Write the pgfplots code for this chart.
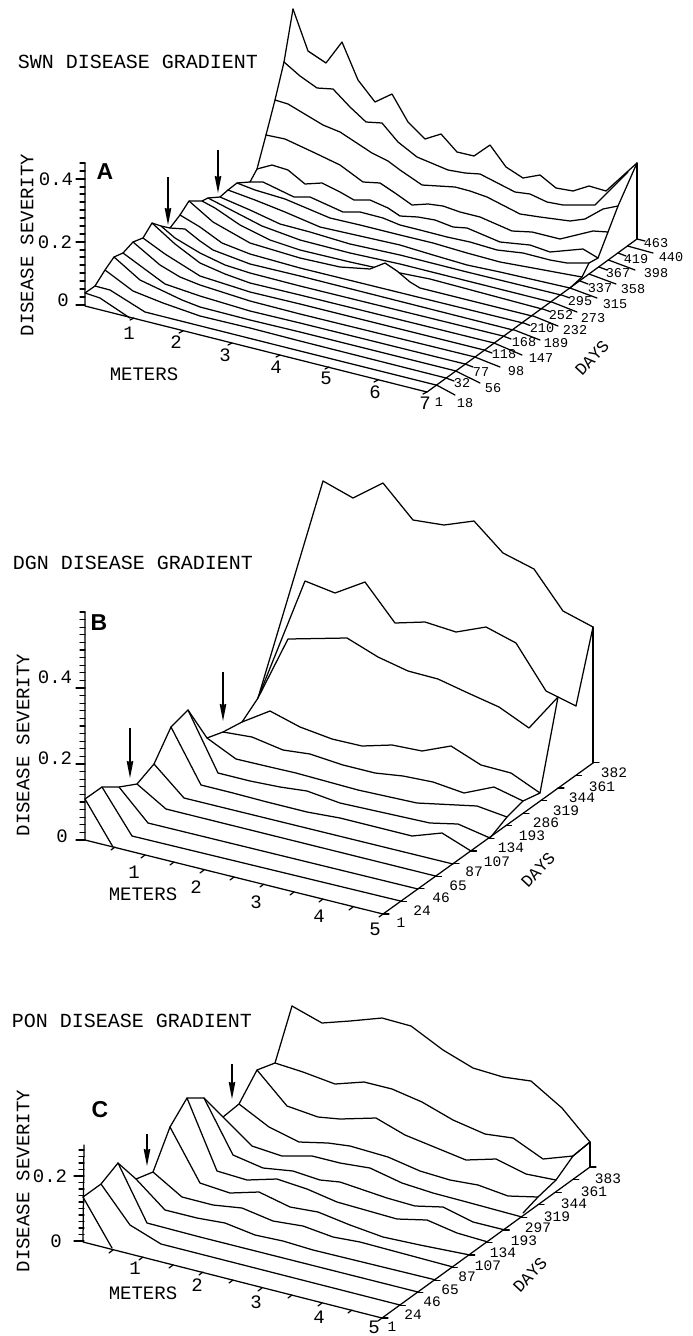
\documentclass[border=0pt]{standalone}
\usepackage{pgfplots}
\pgfplotsset{compat=1.18}
\usepackage{fontspec}
\usetikzlibrary{arrows.meta}
\setmainfont{Liberation Mono}
\newfontfamily\bld{Liberation Sans}
\pgfplotsset{ln/.style={black,line width=1.25pt,line join=round,line cap=round}}
\newcommand{\ridge}[3]{%
\addplot[draw=none,fill=white] coordinates {#1 #2 #3};
\addplot[ln] coordinates {#2};}
\newcommand{\tx}[4]{\node[inner sep=0pt] at (axis cs:#1,#2) {\fontsize{#3}{#3}\selectfont #4};}
\newcommand{\rtx}[5]{\node[inner sep=0pt,rotate=#4] at (axis cs:#1,#2) {\fontsize{#3}{#3}\selectfont #5};}
\newcommand{\arr}[2]{\addplot[black,line width=1.2pt,-{Stealth[length=17pt,width=6.5pt,inset=1pt]}] coordinates {#1 #2};}
\begin{document}
\begin{tikzpicture}
\path[use as bounding box] (0,0) rectangle (693pt,1336pt);
\begin{axis}[at={(0,0)},anchor=south west,hide axis,scale only axis,width=693pt,height=1336pt,xmin=0,xmax=693,ymin=0,ymax=1336,y dir=reverse,clip=false,unbounded coords=jump]
% ---------- PANEL A ----------
\ridge{(295,153)}{(293,9)(308,51)(326,63)(342,42)(358,80)(375,102)(392,94)(408,122)(425,139)(441,134)(457,152)(474,156)(490,145)(506,167)(523,178)(540,175)(556,188)(573,191)(589,186)(606,191)(637,163)}{(637,239)}
\ridge{(285,160)}{(284,62)(300,76)(317,88)(333,89)(350,107)(366,122)(382,123)(398,142)(417,157)(448,170)(465,173)(480,174)(515,192)(530,194)(547,202)(563,205)(595,205)(628,172)}{(627,246)}
\ridge{(276,167)}{(275,100)(288,104)(323,125)(340,132)(372,153)(388,161)(400,170)(422,185)(455,187)(470,191)(487,197)(520,214)(540,217)(570,221)(585,219)(603,209)(618,206)}{(618,253)}
\ridge{(266,174)}{(266,135)(285,139)(315,153)(340,165)(363,182)(380,183)(395,193)(412,205)(428,204)(443,206)(460,212)(480,217)(512,231)(532,232)(560,239)(593,231)(608,232)}{(608,260)}
\ridge{(257,181)}{(257,169)(272,165)(288,170)(305,184)(322,183)(340,192)(354,200)(370,200)(388,208)(400,216)(418,217)(435,220)(453,227)(467,228)(500,242)(530,245)(550,252)(583,249)(598,258)}{(599,267)}
\ridge{(247,188)}{(250,182)(263,182)(294,197)(310,197)(343,212)(360,212)(383,218)(400,225)(420,230)(447,237)(470,242)(497,250)(523,253)(550,260)(567,263)(589,263)}{(589,274)}
\ridge{(238,195)}{(237,183)(255,190)(285,199)(330,218)(360,225)(400,235)(433,243)(467,253)(500,262)(533,268)(560,273)(582,277)}{(580,281)}
\ridge{(228,202)}{(228,190)(255,200)(285,212)(320,227)(360,236)(400,245)(433,255)(467,265)(500,272)(570,288)}{(570,288)}
\ridge{(219,209)}{(220,197)(250,210)(280,224)(310,232)(350,244)(400,255)(467,272)(561,295)}{(561,295)}
\ridge{(209,216)}{(208,198)(235,212)(262,226)(300,240)(350,253)(400,264)(551,302)}{(551,302)}
\ridge{(200,223)}{(202,201)(215,208)(240,225)(270,240)(300,250)(350,262)(400,273)(430,279)(542,309)}{(542,309)}
\ridge{(190,230)}{(189,201)(213,222)(250,243)(300,258)(340,267)(370,269)(385,263)(397,271)(410,282)(420,288)(532,316)}{(532,316)}
\ridge{(180,237)}{(180,215)(200,227)(222,243)(250,254)(300,268)(523,323)}{(523,323)}
\ridge{(171,243)}{(170,228)(185,229)(200,241)(213,250)(250,264)(300,276)(513,330)}{(513,330)}
\ridge{(161,250)}{(161,226)(175,238)(200,253)(225,265)(250,273)(300,286)(503,336)}{(503,336)}
\ridge{(152,257)}{(152,223)(175,244)(200,263)(225,274)(250,283)(300,295)(494,343)}{(494,343)}
\ridge{(142,264)}{(143,238)(165,254)(200,276)(250,292)(300,304)(484,350)}{(484,350)}
\ridge{(133,271)}{(133,242)(160,265)(180,277)(200,285)(250,301)(300,314)(475,357)}{(475,357)}
\ridge{(123,278)}{(123,253)(165,284)(200,296)(250,311)(300,323)(465,364)}{(465,364)}
\ridge{(114,285)}{(114,257)(140,280)(182,300)(200,307)(250,320)(300,332)(456,371)}{(456,371)}
\ridge{(104,292)}{(105,270)(133,291)(163,303)(200,316)(250,328)(300,341)(446,378)}{(446,378)}
\ridge{(95,299)}{(95,286)(110,290)(145,312)(300,351)(436,385)}{(436,385)}
\ridge{(85,306)}{(85,293)(100,298)(130,318)}{(130,318)}
% A silhouette, wall and axes
\addplot[ln] coordinates {(85,293)(95,286)(105,270)(114,257)(123,253)(133,242)(143,238)(152,223)(161,226)(170,228)(180,215)(189,201)(202,201)(208,198)(220,197)(228,190)(237,183)(250,182)(257,169)(266,135)(275,100)(284,62)(293,9)};
\addplot[ln] coordinates {(637,163)(618,206)(608,232)(598,258)(589,263)(582,277)(570,288)};
\addplot[ln] coordinates {(637,163)(637,239)};
\addplot[ln] coordinates {(85,163)(85,306)(427,392)(637,239)};
\addplot[ln] coordinates {(85,305)(76,305)(nan,nan)(85,297)(80,297)(nan,nan)(85,289)(80,289)(nan,nan)(85,281)(80,281)(nan,nan)(85,273)(80,273)(nan,nan)(85,265)(80,265)(nan,nan)(85,257)(80,257)(nan,nan)(85,250)(80,250)(nan,nan)(85,242)(76,242)(nan,nan)(85,234)(80,234)(nan,nan)(85,226)(80,226)(nan,nan)(85,218)(80,218)(nan,nan)(85,210)(80,210)(nan,nan)(85,202)(80,202)(nan,nan)(85,194)(80,194)(nan,nan)(85,187)(80,187)(nan,nan)(85,179)(76,179)(nan,nan)(85,171)(80,171)(nan,nan)(85,163)(80,163)};
\addplot[ln] coordinates {(134,318)(130,320)(nan,nan)(183,331)(179,333)(nan,nan)(232,343)(228,345)(nan,nan)(280,355)(276,357)(nan,nan)(329,367)(325,369)(nan,nan)(378,380)(374,382)(nan,nan)(427,392)(423,394)};
\addplot[ln] coordinates {(436.5,385)(455,395)(nan,nan)(446,378)(454,381)(nan,nan)(455.7,371)(480,383)(nan,nan)(465,364)(473,367)(nan,nan)(474.8,357)(500,367)(nan,nan)(484,350)(492,353)(nan,nan)(494,343)(522,355)(nan,nan)(503,336)(511,339)(nan,nan)(513,329.5)(540,340)(nan,nan)(522.5,322.5)(530,325.5)(nan,nan)(532,315.5)(558,326)(nan,nan)(541.6,308.6)(550,311.6)(nan,nan)(551,301.7)(577,312)(nan,nan)(560.7,294.7)(569,297.7)(nan,nan)(570,288)(597,298)(nan,nan)(580,281)(588,284)(nan,nan)(589,274)(616,284)(nan,nan)(599,267)(607,270)(nan,nan)(608.5,260)(635,270)(nan,nan)(618,253)(626,256)(nan,nan)(627.5,246)(653,253)(nan,nan)(637,239)(645,241)};
\arr{(168,177)}{(168,225)}
\arr{(218,150)}{(218,193)}
\tx{138}{62}{20pt}{SWN DISEASE GRADIENT}
\rtx{27}{245}{19pt}{90}{DISEASE SEVERITY}
\tx{56}{179}{19pt}{0.4}
\tx{55}{242}{19pt}{0.2}
\tx{63}{300}{19pt}{0}
\tx{105}{172}{23pt}{\bld\bfseries A}
\tx{144}{374}{19pt}{METERS}
\rtx{592}{358}{17pt}{47}{DAYS}
\tx{129}{333}{19pt}{1}\tx{176}{342}{19pt}{2}\tx{225}{355}{19pt}{3}\tx{276}{367}{19pt}{4}\tx{326}{378}{19pt}{5}\tx{375}{392}{19pt}{6}\tx{425}{403}{19pt}{7}
\tx{439}{402}{13.5pt}{1}\tx{465}{403}{13.5pt}{18}\tx{462}{383}{13.5pt}{32}\tx{493}{388}{13.5pt}{56}\tx{481}{372}{13.5pt}{77}\tx{516}{371}{13.5pt}{98}\tx{504}{354}{13.5pt}{118}\tx{541}{358}{13.5pt}{147}\tx{524}{342}{13.5pt}{168}\tx{556}{343}{13.5pt}{189}\tx{542}{328}{13.5pt}{210}\tx{575}{330}{13.5pt}{232}\tx{561}{315}{13.5pt}{252}\tx{593}{318}{13.5pt}{273}\tx{580}{301}{13.5pt}{295}\tx{615}{304}{13.5pt}{315}\tx{600}{288}{13.5pt}{337}\tx{633}{289}{13.5pt}{358}\tx{618}{273}{13.5pt}{367}\tx{656}{273}{13.5pt}{398}\tx{636}{259}{13.5pt}{419}\tx{671}{257}{13.5pt}{440}\tx{656}{243}{13.5pt}{463}
% ---------- PANEL B ----------
\ridge{(295,689)}{(258,698)(323,481)(353,498)(383,483)(413,520)(444,525)(474,521)(503,553)(534,569)(563,611)(593,627)}{(593,763)}
\ridge{(277,702)}{(258,698)(305,581)(335,593)(365,582)(395,623)(425,622)(456,632)(486,627)(516,643)(546,691)(576,706)(593,627)}{(575.5,775)}
\ridge{(260,714)}{(258,698)(288,639)(347,638)(378,657)(408,671)(438,679)(468,693)(499,707)(529,728)(558,697)}{(558,788)}
\ridge{(242,727)}{(242,722)(270,711)(300,727)(332,739)(362,746)(392,745)(422,751)(451,746)(481,765)(511,773)(540,793)}{(540.5,800.6)}
\ridge{(225,739)}{(223,732)(252,737)(283,750)(310,754)(343,765)(375,773)(403,776)(433,782)(464,793)(494,787)(523,801)}{(523,813)}
\ridge{(207,752)}{(207,738)(236,759)(270,767)(296,773)(358,790)(417,803)(477,806)(507,817)}{(505.5,825.8)}
\ridge{(190,765)}{(188,710)(218,773)(250,781)(280,787)(307,791)(340,803)(430,823)(458,824)(490,838)}{(488,838.4)}
\ridge{(172,777)}{(171,727)(201,785)(233,793)(267,802)(307,812)(340,818)(412,836)(442,833)(471,851)}{(470.5,851)}
\ridge{(155,790)}{(154,764)(184,798)(453,864)}{(453,864)}
\ridge{(137,802)}{(137,784)(166,809)(435.5,876)}{(435.5,876)}
\ridge{(120,815)}{(119,787)(148,823)(418,889)}{(418,889)}
\ridge{(102,827)}{(102,787)(132,836)(400.5,901)}{(400.5,901)}
\ridge{(85,840)}{(85,799)(113,847)}{(113,847)}
\addplot[ln] coordinates {(85,799)(102,787)(119,787)(137,784)(154,764)(171,727)(188,710)(207,738)(223,732)(242,722)(258,698)};
\addplot[ln] coordinates {(558,697)(540,793)(523,801)(507,817)(490,838)};
\addplot[ln] coordinates {(593,627)(593,763)};
\addplot[ln] coordinates {(85,612)(85,840)(383,914)(593,763)};
\addplot[ln] coordinates {(85,840)(76,840)(nan,nan)(85,832.4)(80,832.4)(nan,nan)(85,824.8)(80,824.8)(nan,nan)(85,817.2)(80,817.2)(nan,nan)(85,809.6)(80,809.6)(nan,nan)(85,802)(80,802)(nan,nan)(85,794.4)(80,794.4)(nan,nan)(85,786.8)(80,786.8)(nan,nan)(85,779.2)(80,779.2)(nan,nan)(85,771.6)(80,771.6)(nan,nan)(85,764)(76,764)(nan,nan)(85,756.4)(80,756.4)(nan,nan)(85,748.8)(80,748.8)(nan,nan)(85,741.2)(80,741.2)(nan,nan)(85,733.6)(80,733.6)(nan,nan)(85,726)(80,726)(nan,nan)(85,718.4)(80,718.4)(nan,nan)(85,710.8)(80,710.8)(nan,nan)(85,703.2)(80,703.2)(nan,nan)(85,695.6)(80,695.6)(nan,nan)(85,688)(76,688)(nan,nan)(85,680.4)(80,680.4)(nan,nan)(85,672.8)(80,672.8)(nan,nan)(85,665.2)(80,665.2)(nan,nan)(85,657.6)(80,657.6)(nan,nan)(85,650)(80,650)(nan,nan)(85,642.4)(80,642.4)(nan,nan)(85,634.8)(80,634.8)(nan,nan)(85,627.2)(80,627.2)(nan,nan)(85,619.6)(80,619.6)(nan,nan)(85,612)(80,612)};
\addplot[ln] coordinates {(115,847)(111,850)(nan,nan)(145,855)(141,858)(nan,nan)(174,862)(170,865)(nan,nan)(204,870)(200,873)(nan,nan)(234,877)(230,880)(nan,nan)(264,884)(260,887)(nan,nan)(294,892)(290,895)(nan,nan)(323,899)(319,902)(nan,nan)(353,907)(349,910)(nan,nan)(383,914)(379,917)};
\addplot[ln] coordinates {(383,914)(389,914)(nan,nan)(400.5,901.4)(406.5,901.4)(nan,nan)(418,888.8)(424,888.8)(nan,nan)(435.5,876.2)(441.5,876.2)(nan,nan)(453,863.6)(459,863.6)(nan,nan)(470.5,851)(476.5,851)(nan,nan)(488,838.4)(494,838.4)(nan,nan)(505.5,825.8)(511.5,825.8)(nan,nan)(523,813.2)(529,813.2)(nan,nan)(540.5,800.6)(546.5,800.6)(nan,nan)(558,788)(564,788)(nan,nan)(575.5,775.4)(581.5,775.4)(nan,nan)(593,762.8)(599,762.8)};
\arr{(130,728)}{(130,778)}
\arr{(223,672)}{(223,721)}
\tx{133}{563}{20pt}{DGN DISEASE GRADIENT}
\rtx{23}{745}{19pt}{90}{DISEASE SEVERITY}
\tx{55}{677}{19pt}{0.4}
\tx{55}{758}{19pt}{0.2}
\tx{62}{836}{19pt}{0}
\tx{99}{623}{23pt}{\bld\bfseries B}
\tx{143}{894}{19pt}{METERS}
\rtx{538}{870}{17pt}{47}{DAYS}
\tx{134}{872}{19pt}{1}\tx{196}{887}{19pt}{2}\tx{256}{902}{19pt}{3}\tx{319}{916}{19pt}{4}\tx{375}{929}{19pt}{5}
\tx{401}{923}{14.5pt}{1}\tx{422}{911}{14.5pt}{24}\tx{441}{898}{14.5pt}{46}\tx{458}{886}{14.5pt}{65}\tx{474}{872}{14.5pt}{87}\tx{497}{862}{14.5pt}{107}\tx{511}{848}{14.5pt}{134}\tx{532}{836}{14.5pt}{193}\tx{546}{823}{14.5pt}{286}\tx{566}{811}{14.5pt}{319}\tx{582}{798}{14.5pt}{344}\tx{602}{787}{14.5pt}{361}\tx{614}{773}{14.5pt}{382}
% ---------- PANEL C ----------
\ridge{(291,1091)}{(292,1006)(322,1023)(350,1021)(382,1018)(411,1026)(443,1050)(473,1068)(503,1077)(531,1081)(562,1108)(590,1142)}{(590,1167)}
\ridge{(273,1103)}{(275,1063)(303,1072)(335,1084)(364,1082)(392,1089)(422,1102)(453,1120)(485,1134)(513,1138)(543,1159)(573,1156)(590,1142)}{(572.7,1179.6)}
\ridge{(256,1116)}{(257,1070)(287,1106)(318,1117)(340,1119)(376,1118)(405,1135)(466,1160)(496,1159)(526,1174)(556,1180)}{(555.3,1192.2)}
\ridge{(239,1128)}{(239,1104)(269,1127)(299,1142)(328,1143)(350,1146)(388,1157)(420,1171)(450,1180)(478,1185)(508,1196)(538,1197)}{(538,1204.8)}
\ridge{(221,1141)}{(223,1117)(252,1146)(282,1156)(312,1156)(340,1163)(370,1168)(402,1183)(433,1193)(463,1201)(522,1217)}{(520.7,1217.4)}
\ridge{(204,1154)}{(204,1098)(233,1155)(263,1168)(293,1171)(320,1180)(340,1182)(387,1198)(415,1206)(443,1207)(473,1222)(505,1230)}{(503.3,1229.9)}
\ridge{(187,1166)}{(187,1098)(217,1171)(247,1180)(277,1179)(307,1189)(337,1202)(397,1219)(427,1220)(457,1233)(488,1242)}{(486,1242.5)}
\ridge{(170,1179)}{(170,1127)(200,1183)(230,1193)(259,1192)(290,1207)(318,1212)(350,1225)(383,1237)(420,1245)(470,1255)}{(468.7,1255)}
\ridge{(152,1192)}{(153,1172)(182,1197)(213,1205)(242,1208)(273,1221)(303,1226)(333,1237)(360,1242)(453,1267)}{(451.3,1267.7)}
\ridge{(135,1204)}{(136,1179)(165,1210)(197,1218)(225,1223)(255,1235)(283,1241)(313,1250)(436,1280)}{(434,1280.3)}
\ridge{(118,1217)}{(118,1163)(147,1223)(200,1237)(418,1292)}{(416.7,1292.8)}
\ridge{(100,1229)}{(101,1184)(130,1225)(161,1244)(400,1305)}{(399.3,1305.4)}
\ridge{(83,1242)}{(83,1197)(112,1248)}{(112,1248)}
\addplot[ln] coordinates {(83,1197)(101,1184)(118,1163)(136,1179)(153,1172)(170,1127)(187,1098)(204,1098)(223,1117)(239,1104)(257,1070)(275,1063)(292,1006)};
\addplot[ln] coordinates {(590,1142)(573,1156)(556,1180)(538,1197)(523,1213)};
\addplot[ln] coordinates {(590,1142)(590,1167)};
\addplot[ln] coordinates {(84,1145)(83,1242)(382,1318)(590,1167)};
\addplot[ln] coordinates {(84,1241)(74,1241)(nan,nan)(84,1234.5)(79,1234.5)(nan,nan)(84,1228)(79,1228)(nan,nan)(84,1221.5)(79,1221.5)(nan,nan)(84,1215)(79,1215)(nan,nan)(84,1208.5)(79,1208.5)(nan,nan)(84,1202)(79,1202)(nan,nan)(84,1195.5)(79,1195.5)(nan,nan)(84,1189)(79,1189)(nan,nan)(84,1182.5)(79,1182.5)(nan,nan)(84,1176)(74,1176)(nan,nan)(84,1169.5)(79,1169.5)(nan,nan)(84,1163)(79,1163)(nan,nan)(84,1156.5)(79,1156.5)(nan,nan)(84,1150)(79,1150)};
\addplot[ln] coordinates {(113,1250)(109,1253)(nan,nan)(143,1257)(139,1260)(nan,nan)(173,1265)(169,1268)(nan,nan)(203,1272)(199,1275)(nan,nan)(233,1280)(229,1283)(nan,nan)(262,1288)(258,1291)(nan,nan)(292,1295)(288,1298)(nan,nan)(322,1303)(318,1306)(nan,nan)(352,1310)(348,1313)(nan,nan)(382,1318)(378,1321)};
\addplot[ln] coordinates {(382,1318)(388,1318)(nan,nan)(399.3,1305.4)(405.3,1305.4)(nan,nan)(416.7,1292.8)(422.7,1292.8)(nan,nan)(434,1280.3)(440,1280.3)(nan,nan)(451.3,1267.7)(457.3,1267.7)(nan,nan)(468.7,1255.1)(474.7,1255.1)(nan,nan)(486,1242.5)(492,1242.5)(nan,nan)(503.3,1229.9)(509.3,1229.9)(nan,nan)(520.7,1217.4)(526.7,1217.4)(nan,nan)(538,1204.8)(544,1204.8)(nan,nan)(555.3,1192.2)(561.3,1192.2)(nan,nan)(572.7,1179.6)(578.7,1179.6)(nan,nan)(590,1167)(596,1167)};
\arr{(147,1134)}{(147,1166)}
\arr{(232,1064)}{(232,1099)}
\tx{132}{1021}{20pt}{PON DISEASE GRADIENT}
\rtx{23}{1181}{19pt}{90}{DISEASE SEVERITY}
\tx{50}{1176}{19pt}{0.2}
\tx{56}{1241}{19pt}{0}
\tx{100}{1110}{23pt}{\bld\bfseries C}
\tx{143}{1293}{19pt}{METERS}
\rtx{530}{1275}{17pt}{47}{DAYS}
\tx{135}{1268}{19pt}{1}\tx{197}{1285}{19pt}{2}\tx{256}{1302}{19pt}{3}\tx{319}{1317}{19pt}{4}\tx{374}{1327}{19pt}{5}
\tx{392}{1327}{14.5pt}{1}\tx{413}{1315}{14.5pt}{24}\tx{432}{1302}{14.5pt}{46}\tx{450}{1290}{14.5pt}{65}\tx{467}{1277}{14.5pt}{87}\tx{488}{1266}{14.5pt}{107}\tx{503}{1253}{14.5pt}{134}\tx{524}{1241}{14.5pt}{193}\tx{538}{1228}{14.5pt}{297}\tx{557}{1217}{14.5pt}{319}\tx{574}{1204}{14.5pt}{344}\tx{594}{1192}{14.5pt}{361}\tx{608}{1179}{14.5pt}{383}
\end{axis}
\end{tikzpicture}
\end{document}
